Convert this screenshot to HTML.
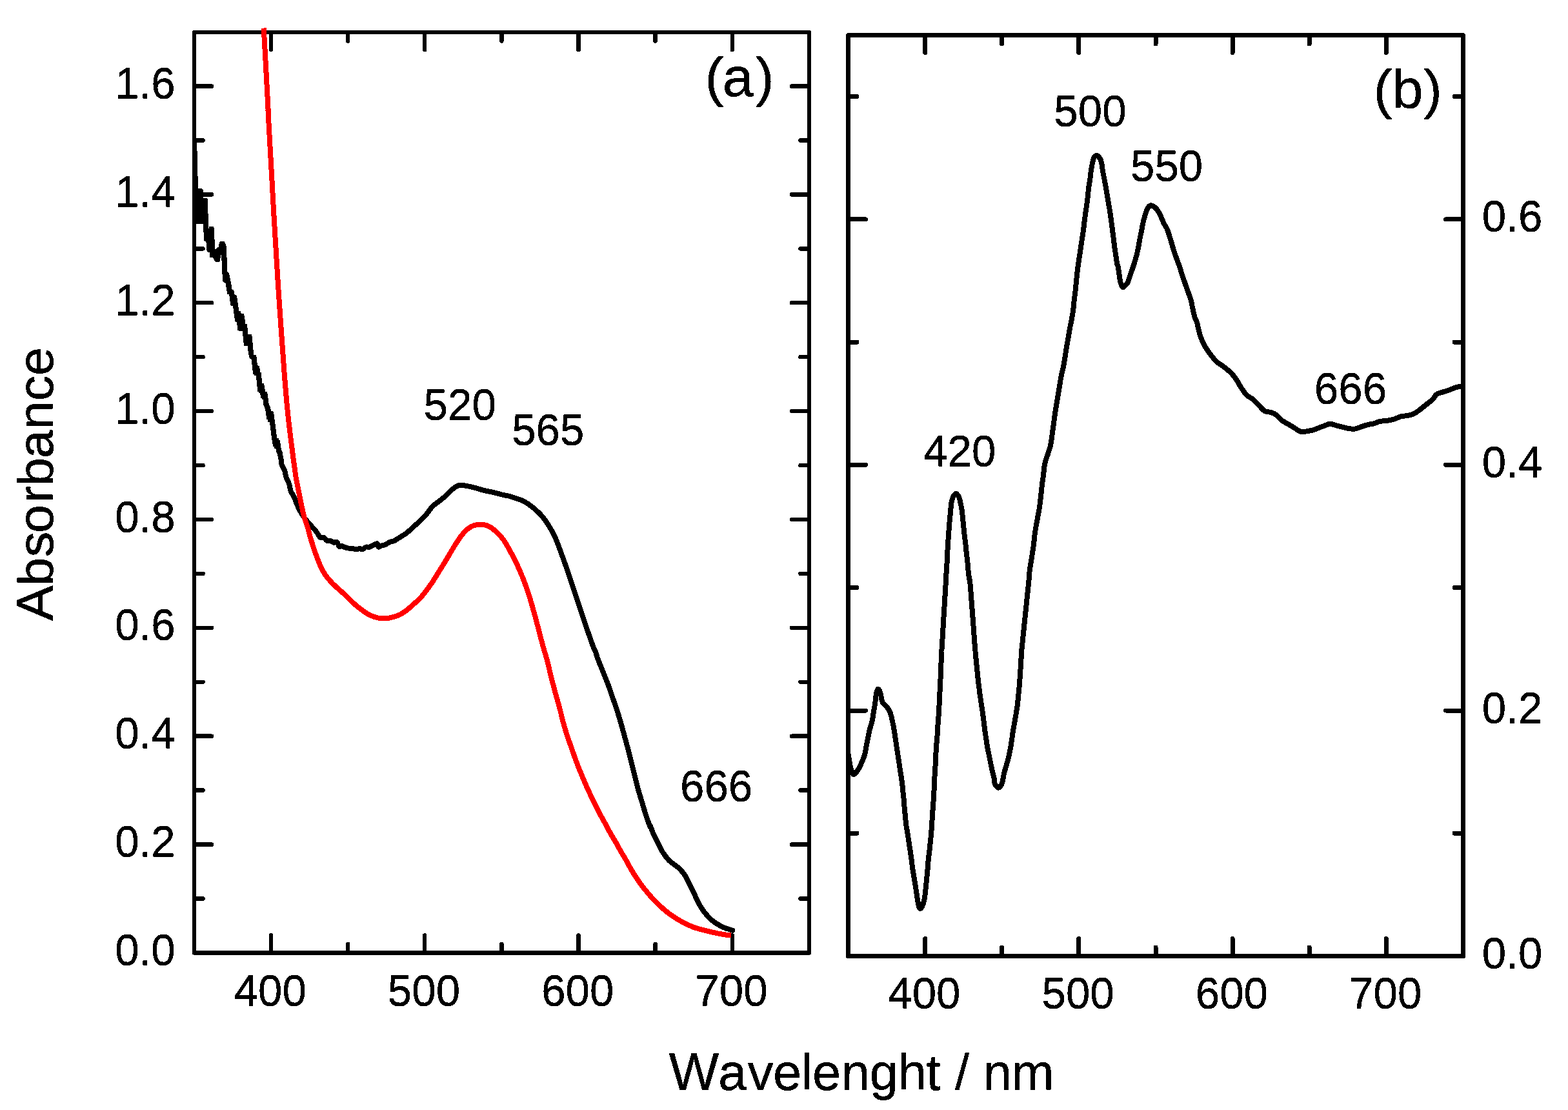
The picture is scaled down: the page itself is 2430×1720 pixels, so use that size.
<!DOCTYPE html>
<html lang="en"><head><meta charset="utf-8"><title>Absorbance spectra</title>
<style>
html,body{margin:0;padding:0;background:#fff;}
body{width:2430px;height:1720px;overflow:hidden;}
svg{display:block;}
text{font-family:"Liberation Sans",Arial,Helvetica,sans-serif;fill:#000;font-kerning:none;}
text{filter:url(#bin);}
.tk{font-size:67.3px;}
.ti{font-size:79.5px;}
.pl{font-size:87px;}
.ax{stroke:#000;fill:none;stroke-linecap:round;stroke-linejoin:round;}
.cv{fill:none;stroke-linejoin:round;}
</style></head><body>
<svg width="2430" height="1720" viewBox="0 0 2430 1720" shape-rendering="crispEdges">
<rect x="0" y="0" width="2430" height="1720" fill="#fff"/>
<defs><filter id="bin" x="-5%" y="-20%" width="110%" height="140%" color-interpolation-filters="sRGB"><feOffset in="SourceGraphic" dx="0" dy="1" result="o"/><feMerge result="m"><feMergeNode in="SourceGraphic"/><feMergeNode in="o"/></feMerge><feComponentTransfer in="m"><feFuncA type="discrete" tableValues="0 1"/></feComponentTransfer></filter></defs>
<g id="panel-a">
<g class="ax" stroke-width="6.5">
<rect x="301" y="50" width="953" height="1426.4"/>
<path d="M420 1476.4v-27 M420 50v27M658.2 1476.4v-27 M658.2 50v27M896.5 1476.4v-27 M896.5 50v27M1134.8 1476.4v-27 M1134.8 50v27M539.1 1476.4v-13.5 M539.1 50v13.5M777.4 1476.4v-13.5 M777.4 50v13.5M1015.6 1476.4v-13.5 M1015.6 50v13.5M301 1308.5h27 M1254 1308.5h-27M301 1140.7h27 M1254 1140.7h-27M301 972.8h27 M1254 972.8h-27M301 805h27 M1254 805h-27M301 637.1h27 M1254 637.1h-27M301 469.2h27 M1254 469.2h-27M301 301.4h27 M1254 301.4h-27M301 133.5h27 M1254 133.5h-27M301 1392.5h13.5 M1254 1392.5h-13.5M301 1224.6h13.5 M1254 1224.6h-13.5M301 1056.8h13.5 M1254 1056.8h-13.5M301 888.9h13.5 M1254 888.9h-13.5M301 721h13.5 M1254 721h-13.5M301 553.2h13.5 M1254 553.2h-13.5M301 385.3h13.5 M1254 385.3h-13.5M301 217.5h13.5 M1254 217.5h-13.5"/>
</g>
<polygon points="301,214 304.9,222 304.9,234 305.9,234 305.9,273 306.9,273 306.9,280 306.9,292.5 308.1,292 313.1,292 314.6,294 314.9,296.1 314.9,306.9 320.1,306.9 321.6,308.6 321.9,310.1 321.9,331.2 322.9,331.2 322.9,354.3 324.1,352.8 324.6,351.2 330.1,351 331.6,352.8 331.9,354.3 331.9,371.3 333,371.3 333,385.9 334.7,385.9 337.2,383.4 339.2,382.4 339.2,379.3 340.2,375.3 341.4,374 347.2,374 348.7,376.3 350.2,379.3 350.7,382.4 350.7,398.9 351.7,398.9 351.7,420 354.7,423.5 355.7,426.5 356.7,431.5 357.7,436.5 358.7,441.6 357.7,441.8 357.7,442.1 358.7,442.1 358.7,448.1 361.7,449.1 361.7,451.1 362.7,451.1 362.7,456.1 366.7,457.6 366.7,462.1 367.7,462.1 367.7,469.2 368.7,469.2 368.7,476.2 369.7,476.2 369.7,482.2 372.8,482.2 372.8,485.2 377.8,486.2 377.8,489.2 378.8,489.2 378.8,495.3 379.8,495.3 379.8,502.3 382.8,502.3 382.8,508.3 383.8,508.3 383.8,517.8 390.3,518.3 390.3,521.4 390.8,521.4 390.8,531.4 391.8,531.4 391.8,542.4 392.8,542.4 392.8,549.5 396.8,550 396.8,552.5 397.8,552.5 397.8,561.5 398.8,561.5 398.8,566 402.4,567.5 402.4,570.5 403.4,570.5 403.4,576.5 404.9,576.5 404.9,578 404.7,578 404.7,585.6 405.7,585.6 405.7,594.1 408.7,594.1 408.7,597.1 409.7,597.1 409.7,602.6 410.7,602.6 410.7,607.1 413.8,607.1 413.8,610.1 414.8,610.1 414.8,616.7 415.8,616.7 415.8,624.7 416.8,624.7 416.8,627.7 417.8,627.7 417.8,630.2 418.8,630.2 418.8,633.7 419.8,633.7 419.8,637 423.3,637 423.3,638.2 423.8,638.2 423.8,641.8 424.8,641.8 424.8,649.8 425.8,649.8 425.8,656.8 426.8,656.8 426.8,664.8 427.8,664.8 427.8,672.9 428.8,672.9 428.8,678.9 432.3,678.9 432.3,681.9 433.8,681.9 433.8,686.9 434.8,686.9 434.8,693.9 435.8,693.9 435.8,697.9 436.8,697.9 436.8,700 437.8,700 437.8,703 429.3,703 429.3,700.5 428.3,700.5 428.3,696.4 427.3,696.4 427.3,694.9 424.8,694.9 424.8,692.4 423.3,692.4 423.3,688.4 422.3,688.4 422.3,682.4 421.3,682.4 421.3,675.4 420.3,675.4 420.3,667.3 419.3,667.3 419.3,659.3 418.3,659.3 418.3,653.8 414.8,653.8 414.8,650.3 413.3,650.3 413.3,643.8 412.3,643.8 412.3,636.7 411.2,636.7 411.2,633.2 410.2,633.2 410.2,630.2 409.2,630.2 409.2,627.7 408.2,627.7 408.2,619.2 405.7,619.2 405.7,617.2 404.2,617.2 404.2,612.1 403.2,612.1 403.2,608.6 400.7,608.6 400.7,606.6 399.2,606.6 399.2,599.1 398.2,599.1 398.2,588.6 397.2,588.6 397.2,581.5 393.7,581.5 393.7,579.5 392.2,579.5 392.2,578 392.3,578 392.3,573.5 391.3,573.5 391.3,564.5 390.3,564.5 390.3,557.5 387.3,555.5 387.3,553.5 386.3,553.5 386.3,549.5 385.3,549.5 385.3,544.4 384.3,544.4 384.3,536.4 380.3,536.4 380.3,535.6 378.3,535.6 378.3,531.4 377.3,531.4 377.3,521.4 376.3,521.4 376.3,512.8 370.2,512.8 370.2,511.8 368.2,511.8 368.2,504.3 367.2,504.3 367.2,499.3 364.2,498.3 364.2,493.3 363.2,493.3 363.2,486.2 362.2,486.2 362.2,478.2 361.2,478.2 361.2,474.2 358.2,474.2 358.2,472.7 357.2,472.7 357.2,467.2 356.2,467.2 356.2,459.1 355.2,459.1 355.2,456.1 352.2,455.6 352.2,451.1 351.2,451.1 351.2,445.1 350.2,445.1 350.2,441.8 350.2,441.6 350.2,439.1 347.2,437.6 345.2,435.5 345.2,424.5 344.2,424.5 344.2,404.4 343.2,404.4 343.2,395.4 342.2,395.4 341.7,398.4 341.2,403.9 340.2,405.6 334.2,405.6 333.2,404.4 331.1,401.9 330.1,399.4 326.1,398.9 325.1,398.4 325.1,391.4 321.1,390.4 321.1,388.4 320.1,388.4 320.1,377.8 319.1,374.8 316.1,372.8 316.1,359.8 315.1,359.8 315.1,346.7 301,346.7 299,346.7 299,214" fill="#000"/>
<path class="cv" d="M433.1 700C433.5 701.7 434.7 706.7 435.3 710C435.9 713.4 435.6 716.7 436.6 720.1C437.6 723.4 440.2 726.8 441.3 730.1C442.5 733.5 442.5 736.8 443.7 740.1C444.8 743.5 447 746.8 448.2 750.2C449.3 753.5 449.1 756.9 450.4 760.2C451.6 763.6 454.1 766.9 455.7 770.2C457.3 773.6 458.3 776.9 459.7 780.3C461.1 783.6 462.5 787 464.2 790.3C466 793.7 467.6 796.6 470.2 800.4C472.9 804.1 476.9 808.7 480.3 812.6C483.6 816.5 487.7 820.6 490.3 823.9C493 827.3 494.2 831.3 496.2 832.8C498.2 834.4 500.5 832.3 502.2 833C503.9 833.8 504.6 836.7 506.2 837.6C507.9 838.4 510.4 837.6 512.3 838.1C514.1 838.6 515.6 840.2 517.3 840.6C518.9 840.9 520.9 839 522.3 840.1C523.7 841.2 524.6 846.2 525.8 847.1C527 848 528.1 845.5 529.3 845.6C530.6 845.7 531.5 846.9 533.3 847.6C535.2 848.3 538.2 849.2 540.4 849.6C542.5 850 544.5 849.6 546.4 849.9C548.2 850.2 549.6 851.3 551.4 851.3C553.2 851.3 555.7 850.1 557.4 850.1C559.1 850.1 559.8 851.7 561.4 851.3C563.1 850.9 565.6 848.2 567.4 847.6C569.3 847 570.6 848.4 572.5 847.9C574.3 847.4 576.5 845.5 578.5 844.6C580.5 843.6 583.1 841.8 584.5 842.3C585.9 842.8 585.7 847 586.7 847.6C587.7 848.2 588.9 846.5 590.5 845.9C592.2 845.3 594.2 845.1 596.5 844.1C598.9 843.1 602.2 840.9 604.6 839.9C606.9 838.9 607.9 839.4 610.6 838.1C613.3 836.8 617.3 834.1 620.6 832C624 830 627.4 828 630.7 825.5C633.9 823 636.8 820 640 817C643.2 814.1 646.7 811.2 650 808C653.4 804.9 656.7 801.9 660 798C663.4 794.2 666.7 788.5 670 785C673.4 781.5 676.7 779.7 680 777C683.4 774.4 686.7 772 690 769C693.4 766 696.7 761.8 700 759C703.4 756.3 706.7 753.5 710 752.4C713.4 751.3 716.7 752.1 720 752.4C723.4 752.8 726.7 753.7 730.1 754.4C733.4 755.2 736.7 756.1 740.1 757C743.4 758 746.7 759.2 750.1 760C753.4 760.9 756.7 761.3 760.1 762C763.4 762.8 766.7 763.6 770.1 764.4C773.4 765.3 776.7 766.3 780.1 767C783.4 767.8 786.7 768.1 790.1 769C793.4 769.9 796.7 771.3 800.1 772.4C803.4 773.6 806.7 774.4 810.1 776C813.4 777.6 816.8 779.7 820.1 782C823.4 784.4 826.8 787 830.1 790C833.4 793 836.8 796 840.1 800C843.4 804 846.8 808.7 850.1 814C853.4 819.4 856.8 824.7 860.1 832.1C863.4 839.4 866.8 849.1 870.1 858.1C873.4 867.1 876.8 876.4 880.1 886.1C883.4 895.7 886.8 906.1 890.1 916.1C893.5 926.1 896.8 936.1 900.1 946.1C903.5 956.1 906.8 966.4 910.1 976.1C913.5 985.8 918 998.5 920.1 1004.1C922.3 1009.8 922.1 1007.4 923.1 1010C924.1 1012.7 924.2 1015 926.1 1020C927.9 1025 931.4 1033.3 934.1 1040C936.7 1046.7 939.6 1053.4 942.1 1060C944.6 1066.7 946.7 1073.4 949.1 1080C951.4 1086.7 953.9 1093.4 956.1 1100C958.2 1106.7 960.1 1113.4 962.1 1120C964 1126.7 965.8 1133.4 967.7 1140.1C969.5 1146.7 971.4 1153.4 973.1 1160.1C974.8 1166.7 976.4 1173.4 978.1 1180.1C979.8 1186.7 981.4 1193.4 983.1 1200.1C984.8 1206.7 986.3 1213.4 988.1 1220.1C989.9 1226.8 992.1 1233.4 994.1 1240.1C996.1 1246.8 997.9 1253.4 1000.1 1260.1C1002.3 1266.8 1005.8 1276.8 1007.1 1280.1C1008.4 1283.4 1006.8 1277.8 1007.8 1280C1008.8 1282.2 1011.1 1288.7 1013.1 1293.1C1015 1297.4 1017.4 1301.8 1019.6 1306.1C1021.8 1310.5 1023.4 1314.9 1026.1 1319.2C1028.9 1323.6 1033 1329 1035.9 1332.3C1038.9 1335.6 1041.1 1336.6 1043.8 1338.8C1046.5 1341 1049.9 1343.2 1052.3 1345.4C1054.7 1347.5 1056.4 1349.7 1058.2 1351.9C1059.9 1354.1 1060.9 1355.2 1062.7 1358.4C1064.6 1361.7 1067.1 1367.1 1069.3 1371.5C1071.5 1375.9 1073.7 1380.2 1075.8 1384.6C1077.9 1388.9 1079.4 1393.3 1081.7 1397.6C1084 1402 1087.4 1407.5 1089.5 1410.7C1091.7 1414 1092.9 1415.1 1094.8 1417.3C1096.6 1419.4 1098.3 1421.6 1100.7 1423.8C1103.1 1426 1105.8 1428.1 1109.2 1430.3C1112.5 1432.5 1117.4 1435.2 1120.9 1436.9C1124.4 1438.5 1127.7 1439.3 1130.1 1440.1C1132.5 1440.9 1134.4 1441.4 1135.3 1441.7" stroke="#000" stroke-width="8" stroke-linecap="round"/>
<path class="cv" d="M408.7 43.5C409.8 62.9 413.9 137.2 415.1 160C416.3 182.8 414.8 160 415.9 180C417 200 420 252.8 421.5 280C423 307.2 423.4 315.8 425 343C426.6 370.2 428.6 405.2 431.1 443C433.6 480.8 437.5 537.2 440 570C442.5 602.8 443.8 618.3 446 640C448.2 661.7 451.5 686.7 453.2 700C454.8 713.3 455 713.4 455.9 720.1C456.8 726.8 457.6 733.5 458.7 740.1C459.8 746.8 461.4 753.5 462.7 760.2C464.1 766.9 465.3 773.6 466.7 780.3C468.2 787 469.4 793.7 471.2 800.4C473.1 807 476.1 815.1 477.6 820C479.1 824.9 479.2 826.7 480.1 830C481.1 833.4 482.1 836.7 483.2 840.1C484.2 843.4 485.2 846.8 486.4 850.1C487.5 853.5 488.7 856.8 489.9 860.1C491.1 863.5 492.3 866.8 493.7 870.2C495.1 873.5 496.5 876.9 498.2 880.2C499.9 883.6 501.5 886.9 503.7 890.2C506 893.6 509 897.2 511.8 900.3C514.5 903.4 517.2 905.9 520.3 908.8C523.4 911.7 527 914.8 530.3 917.8C533.7 920.9 537 924 540.4 927.2C543.7 930.4 547 933.9 550.4 936.9C553.7 939.9 557.1 942.5 560.4 944.9C563.8 947.4 567.1 949.8 570.5 951.7C573.8 953.5 577.1 954.9 580.5 956C583.8 957.1 587.2 957.9 590.5 958.3C593.9 958.6 597.2 958.4 600.6 958C603.9 957.5 607.3 956.7 610.6 955.7C613.9 954.7 617.3 953.7 620.6 952C624 950.2 627.4 947.7 630.7 945.2C633.9 942.8 636.8 940 640 937.1C643.2 934.2 646.7 931.6 650 928.1C653.4 924.6 656.7 920.4 660 916.1C663.4 911.8 666.7 907.1 670 902.1C673.4 897.1 676.7 891.4 680 886.1C683.4 880.7 686.7 875.6 690 870.1C693.4 864.6 696.7 858.6 700 853.1C703.4 847.6 706.7 841.9 710 837.1C713.4 832.2 716.7 827.6 720 824C723.4 820.5 726.7 817.9 730.1 816C733.4 814.2 736.7 813.5 740.1 813C743.4 812.5 746.7 812.4 750.1 813C753.4 813.7 756.7 815 760.1 817C763.4 819 766.7 821.9 770.1 825.1C773.4 828.2 776.7 831.4 780.1 836.1C783.4 840.7 786.7 847.1 790.1 853.1C793.4 859.1 796.7 865.1 800.1 872.1C803.4 879.1 806.7 886.6 810.1 895.1C813.4 903.6 816.8 912.6 820.1 923.1C823.4 933.6 826.8 945.9 830.1 958.1C833.4 970.3 837.8 987.5 840.1 996.1C842.4 1004.8 842.9 1006 844 1010C845.2 1014 845.7 1015 847 1020C848.4 1025 850.4 1033.3 852 1040C853.7 1046.7 855.3 1053.4 857 1060C858.8 1066.7 860.6 1073.4 862.4 1080C864.3 1086.7 866.3 1093.4 868 1100C869.8 1106.7 871.2 1113.4 873 1120C874.9 1126.7 876.9 1133.4 879 1140.1C881.2 1146.7 883.7 1153.4 886.1 1160.1C888.4 1166.7 890.6 1173.4 893.1 1180.1C895.6 1186.7 898.3 1193.4 901.1 1200.1C903.8 1206.7 906.7 1213.4 909.7 1220.1C912.7 1226.8 915.8 1233.4 919.1 1240.1C922.3 1246.8 925.6 1253.4 929.1 1260.1C932.6 1266.8 938.3 1276.8 940.1 1280.1C941.9 1283.4 938.7 1277.8 939.9 1280C941 1282.2 944.6 1288.7 947.1 1293.1C949.6 1297.4 952.4 1301.8 954.9 1306.1C957.4 1310.5 959.6 1314.9 962.1 1319.2C964.6 1323.6 967.4 1327.9 969.9 1332.3C972.4 1336.6 974.6 1341 977.1 1345.4C979.6 1349.7 982.1 1354.1 985 1358.4C987.8 1362.8 990.8 1367.1 994.1 1371.5C997.4 1375.9 1000.9 1380.2 1004.6 1384.6C1008.3 1388.9 1012 1393.3 1016.3 1397.6C1020.7 1402 1026.9 1407.5 1030.7 1410.7C1034.5 1414 1036.2 1415.1 1039.2 1417.3C1042.3 1419.4 1045.4 1421.6 1049 1423.8C1052.6 1426 1056.4 1428.1 1060.8 1430.3C1065.1 1432.5 1069.7 1434.9 1075.2 1436.9C1080.6 1438.8 1087.6 1440.6 1093.5 1442.1C1099.3 1443.6 1105.2 1444.9 1110.5 1446C1115.7 1447.1 1121.1 1448 1124.8 1448.6C1128.6 1449.2 1131.6 1449.4 1132.9 1449.5" stroke="#f00" stroke-width="8" stroke-linecap="butt"/>
<text class="tk" transform="translate(271.7 1494.9) scale(1 1.02)" text-anchor="end">0.0</text>
<text class="tk" transform="translate(271.7 1327) scale(1 1.02)" text-anchor="end">0.2</text>
<text class="tk" transform="translate(271.7 1159.2) scale(1 1.02)" text-anchor="end">0.4</text>
<text class="tk" transform="translate(271.7 991.3) scale(1 1.02)" text-anchor="end">0.6</text>
<text class="tk" transform="translate(271.7 823.5) scale(1 1.02)" text-anchor="end">0.8</text>
<text class="tk" transform="translate(271.7 655.6) scale(1 1.02)" text-anchor="end">1.0</text>
<text class="tk" transform="translate(271.7 487.7) scale(1 1.02)" text-anchor="end">1.2</text>
<text class="tk" transform="translate(271.7 319.9) scale(1 1.02)" text-anchor="end">1.4</text>
<text class="tk" transform="translate(271.7 152) scale(1 1.02)" text-anchor="end">1.6</text>
<text class="tk" transform="translate(418.8 1558) scale(1 1.02)" text-anchor="middle">400</text>
<text class="tk" transform="translate(657 1558) scale(1 1.02)" text-anchor="middle">500</text>
<text class="tk" transform="translate(895.3 1558) scale(1 1.02)" text-anchor="middle">600</text>
<text class="tk" transform="translate(1133.5 1558) scale(1 1.02)" text-anchor="middle">700</text>
<text class="tk" transform="translate(656.6 650.4) scale(1 1.02)">520</text>
<text class="tk" transform="translate(793.2 689.2) scale(1 1.02)">565</text>
<text class="tk" transform="translate(1054 1241.4) scale(1 1.02)">666</text>
<text class="pl" transform="translate(0 147.8) scale(1 0.965)" x="1092.4 1119.6 1170.8" y="0">(a)</text>
</g>
<g id="panel-b">
<g class="ax" stroke-width="7">
<rect x="1314.5" y="54.5" width="953" height="1427"/>
<path d="M1433.6 1481.5v-27 M1433.6 54.5v27M1671.8 1481.5v-27 M1671.8 54.5v27M1910.1 1481.5v-27 M1910.1 54.5v27M2148.3 1481.5v-27 M2148.3 54.5v27M1552.7 1481.5v-13.5 M1552.7 54.5v13.5M1791 1481.5v-13.5 M1791 54.5v13.5M2029.2 1481.5v-13.5 M2029.2 54.5v13.5M1314.5 1101h27 M2267.5 1101h-27M1314.5 720.4h27 M2267.5 720.4h-27M1314.5 339.9h27 M2267.5 339.9h-27M1314.5 1291.2h13.5 M2267.5 1291.2h-13.5M1314.5 910.7h13.5 M2267.5 910.7h-13.5M1314.5 530.1h13.5 M2267.5 530.1h-13.5M1314.5 149.6h13.5 M2267.5 149.6h-13.5"/>
</g>
<clipPath id="clipb"><rect x="1314.5" y="54.5" width="953" height="1427"/></clipPath>
<path class="cv" clip-path="url(#clipb)" d="M1314.1 1166C1314.8 1169.9 1316.8 1183.9 1318.3 1189.5C1319.8 1195.2 1320.9 1199.6 1322.9 1200C1324.8 1200.4 1327.9 1195.4 1330.1 1192.2C1332.2 1188.9 1334.3 1184.1 1335.9 1180.4C1337.6 1176.7 1338.8 1173.9 1339.9 1169.9C1341 1166 1341.6 1161.2 1342.5 1156.9C1343.4 1152.5 1344.2 1148.1 1345.1 1143.8C1346 1139.4 1346.6 1135.1 1347.7 1130.7C1348.8 1126.4 1350.7 1122 1351.6 1117.6C1352.6 1113.3 1352.9 1108.9 1353.6 1104.6C1354.3 1100.2 1355.3 1095.9 1355.9 1091.5C1356.6 1087.1 1357 1081.9 1357.5 1078.4C1358 1074.9 1358.5 1072.4 1359.1 1070.6C1359.7 1068.8 1360.3 1067.6 1361 1067.7C1361.8 1067.8 1362.7 1069.5 1363.4 1071.2C1364.1 1073 1364.6 1075.5 1365.4 1078.4C1366.1 1081.4 1366.4 1086.1 1368 1088.9C1369.5 1091.7 1372.5 1092.8 1374.5 1095.4C1376.5 1098 1378.3 1100.9 1379.7 1104.6C1381.2 1108.3 1382 1113.3 1383 1117.6C1384 1122 1384.9 1126.4 1385.6 1130.7C1386.4 1135.1 1386.9 1139.4 1387.6 1143.8C1388.2 1148.1 1388.9 1152.5 1389.5 1156.9C1390.2 1161.2 1390.8 1165.6 1391.5 1169.9C1392.2 1174.3 1392.8 1178.6 1393.5 1183C1394.1 1187.4 1395 1193.2 1395.4 1196.1C1395.9 1198.9 1395.6 1197.2 1396.1 1200C1396.5 1202.8 1397.5 1208.7 1398 1213.1C1398.6 1217.4 1398.9 1221.8 1399.3 1226.1C1399.8 1230.5 1400.3 1234.9 1400.7 1239.2C1401 1243.6 1401.3 1247.9 1401.7 1252.3C1402.1 1256.6 1402.6 1261 1403 1265.4C1403.4 1269.7 1403.7 1274.1 1404.3 1278.4C1404.9 1282.8 1405.8 1287.1 1406.5 1291.5C1407.2 1295.9 1407.8 1300.2 1408.5 1304.6C1409.2 1308.9 1409.8 1313.3 1410.5 1317.6C1411.1 1322 1411.8 1326.4 1412.4 1330.7C1413 1335.1 1413.4 1339.4 1414 1343.8C1414.6 1348.1 1415.4 1352.5 1416.1 1356.9C1416.8 1361.2 1417.6 1365.6 1418.3 1369.9C1419 1374.3 1419.6 1378.6 1420.3 1383C1420.9 1387.4 1421.6 1392.4 1422.2 1396.1C1422.9 1399.8 1423.5 1403.2 1424.2 1405.2C1424.9 1407.2 1425.6 1408.1 1426.4 1408.1C1427.2 1408.1 1427.8 1407.2 1428.8 1405.2C1429.7 1403.2 1431.2 1399.8 1432 1396.1C1432.9 1392.4 1433.4 1387.4 1434 1383C1434.5 1378.6 1434.9 1374.3 1435.3 1369.9C1435.7 1365.6 1436.2 1361.2 1436.6 1356.9C1437 1352.5 1437.5 1348.1 1437.9 1343.8C1438.3 1339.4 1438.4 1335.1 1438.8 1330.7C1439.3 1326.4 1440 1322 1440.5 1317.6C1441 1313.3 1441.4 1308.9 1441.8 1304.6C1442.3 1300.2 1442.8 1295.9 1443.1 1291.5C1443.5 1287.1 1443.8 1282.8 1444.1 1278.4C1444.3 1274.1 1444.6 1269.7 1444.8 1265.4C1445.1 1261 1445.4 1256.6 1445.8 1252.3C1446.1 1247.9 1446.4 1243.6 1446.7 1239.2C1446.9 1234.9 1447.3 1230.5 1447.5 1226.1C1447.6 1221.8 1447.5 1217.4 1447.7 1213.1C1447.9 1208.7 1448.5 1202.8 1448.8 1200C1449 1197.2 1448.9 1198.9 1449 1196.1C1449.2 1193.2 1449.5 1187.4 1449.7 1183C1449.9 1178.6 1450.1 1174.3 1450.3 1169.9C1450.5 1165.6 1450.7 1161.2 1451 1156.9C1451.3 1152.5 1452 1148.1 1452.3 1143.8C1452.6 1139.4 1452.7 1135.1 1452.9 1130.7C1453.2 1126.4 1453.7 1122 1454 1117.6C1454.3 1113.3 1454.6 1108.9 1454.9 1104.6C1455.2 1100.2 1455.3 1095.9 1455.6 1091.5C1455.8 1087.1 1456 1082.8 1456.2 1078.4C1456.4 1074.1 1456.6 1069.7 1456.9 1065.4C1457.1 1061 1457.3 1056.6 1457.5 1052.3C1457.7 1047.9 1457.7 1043.6 1457.9 1039.2C1458.1 1034.9 1458.3 1030.5 1458.6 1026.1C1458.8 1021.8 1459 1017.4 1459.2 1013.1C1459.4 1008.7 1458.8 1017.3 1459.9 1000C1460.9 982.7 1464.3 926.5 1465.4 909.2C1466.4 891.8 1465.8 900.4 1466 896.1C1466.3 891.7 1466.6 887.4 1466.9 883C1467.2 878.6 1467.5 874.3 1467.7 869.9C1467.9 865.6 1468 861.2 1468.2 856.9C1468.5 852.5 1468.7 848.1 1469 843.8C1469.3 839.4 1469.6 835.1 1469.9 830.7C1470.2 826.4 1470.5 822 1470.8 817.6C1471.2 813.3 1471.5 808.9 1471.9 804.6C1472.3 800.2 1472.8 795.9 1473.2 791.5C1473.6 787.1 1473.8 782.1 1474.5 778.4C1475.2 774.7 1476.2 771.6 1477.4 769.3C1478.6 767 1480.2 764.5 1481.7 764.7C1483.2 764.9 1485.1 767.9 1486.3 770.6C1487.5 773.3 1488.1 777.6 1488.9 781C1489.7 784.5 1490.3 787.6 1490.8 791.5C1491.4 795.4 1491.7 800.2 1492.2 804.6C1492.6 808.9 1493 813.3 1493.5 817.6C1493.9 822 1494.3 826.4 1494.8 830.7C1495.3 835.1 1496 839.4 1496.5 843.8C1497 848.1 1497.3 852.5 1497.8 856.9C1498.3 861.2 1498.9 865.6 1499.3 869.9C1499.8 874.3 1500 878.6 1500.4 883C1500.8 887.4 1501.4 891.7 1502 896.1C1502.5 900.4 1502.5 891.8 1503.9 909.2C1505.4 926.5 1509.4 982.7 1510.7 1000C1512 1017.3 1511.4 1008.7 1511.8 1013.1C1512.2 1017.4 1512.6 1021.8 1513.1 1026.1C1513.5 1030.5 1513.9 1034.9 1514.4 1039.2C1514.8 1043.6 1515.2 1047.9 1515.7 1052.3C1516.2 1056.6 1516.7 1061 1517.3 1065.4C1517.8 1069.7 1518.3 1074.1 1519 1078.4C1519.6 1082.8 1520.3 1087.1 1520.9 1091.5C1521.6 1095.9 1522.3 1100.2 1522.9 1104.6C1523.5 1108.9 1524 1113.3 1524.6 1117.6C1525.1 1122 1525.6 1126.4 1526.1 1130.7C1526.7 1135.1 1527.5 1139.4 1528.1 1143.8C1528.8 1148.1 1529.3 1152.5 1530.1 1156.9C1530.8 1161.2 1531.8 1165.6 1532.7 1169.9C1533.6 1174.3 1534.4 1178.6 1535.3 1183C1536.2 1187.4 1537.3 1192.4 1538.2 1196.1C1539 1199.8 1540 1202.4 1540.5 1205.2C1541.1 1208.1 1540.8 1211.1 1541.4 1213.3C1542 1215.5 1543.2 1217.3 1544.2 1218.6C1545.2 1219.8 1546.1 1220.8 1547.1 1220.8C1548.1 1220.8 1549.2 1219.8 1550.2 1218.6C1551.2 1217.3 1552.3 1215.5 1553.1 1213.3C1553.8 1211.1 1554.1 1208.3 1554.7 1205.4C1555.3 1202.5 1555.6 1199.8 1556.6 1196.1C1557.6 1192.3 1559.3 1187.4 1560.5 1183C1561.7 1178.6 1562.8 1174.3 1563.8 1169.9C1564.8 1165.6 1565.6 1161.2 1566.4 1156.9C1567.2 1152.5 1567.7 1148.1 1568.4 1143.8C1569 1139.4 1569.6 1135.1 1570.3 1130.7C1571 1126.4 1571.9 1122 1572.7 1117.6C1573.4 1113.3 1574.2 1108.9 1574.9 1104.6C1575.6 1100.2 1576.3 1095.9 1576.9 1091.5C1577.4 1087.1 1577.7 1082.8 1578.2 1078.4C1578.6 1074.1 1579.1 1069.7 1579.5 1065.4C1579.9 1061 1580.2 1056.6 1580.5 1052.3C1580.8 1047.9 1581.2 1043.6 1581.4 1039.2C1581.7 1034.9 1581.8 1030.5 1582.1 1026.1C1582.4 1021.8 1582.8 1017.4 1583.1 1013.1C1583.5 1008.7 1582.3 1017.3 1584.1 1000C1585.8 982.7 1591.7 926.5 1593.5 909.2C1595.3 891.8 1594.4 900.4 1594.8 896.1C1595.2 891.7 1595.3 887.4 1595.8 883C1596.4 878.6 1597.3 874.3 1598 869.9C1598.7 865.6 1599.3 861.2 1600 856.9C1600.7 852.5 1601.4 848.1 1602 843.8C1602.5 839.4 1602.7 835.1 1603.3 830.7C1603.8 826.4 1604 824.6 1605.2 817.6C1606.4 810.7 1609.3 796.1 1610.5 789.2C1611.6 782.2 1611.6 780.4 1612.2 776.1C1612.7 771.7 1613.2 767.4 1613.7 763C1614.2 758.6 1614.5 754.3 1615 749.9C1615.6 745.6 1616.4 741.2 1617 736.9C1617.5 732.5 1617.8 727.5 1618.3 723.8C1618.8 720.1 1619.3 718.1 1620.3 714.6C1621.2 711.2 1622.9 707 1624.2 702.9C1625.5 698.7 1627.1 694.6 1628.1 689.8C1629.2 685 1629.7 679.3 1630.5 674.1C1631.2 668.9 1631.9 664.3 1632.7 658.4C1633.5 652.5 1634.3 645.4 1635.3 638.8C1636.3 632.3 1637.5 625.8 1638.6 619.2C1639.7 612.7 1640.7 606.1 1641.8 599.6C1642.9 593.1 1644.1 584.9 1645.1 580C1646.1 575.1 1646.9 573.8 1647.7 569.9C1648.5 566.1 1649.2 561.2 1649.9 556.9C1650.7 552.5 1651.3 548.1 1652 543.8C1652.7 539.4 1653.5 535.1 1654.2 530.7C1655 526.4 1655.7 522 1656.5 517.6C1657.2 513.3 1658 508.9 1658.8 504.6C1659.7 500.2 1660.7 495.9 1661.4 491.5C1662.2 487.1 1662.9 482.8 1663.4 478.4C1663.9 474.1 1664.2 469.7 1664.7 465.4C1665.2 461 1665.9 456.6 1666.4 452.3C1666.9 447.9 1667.3 443.6 1667.7 439.2C1668.1 434.9 1668.5 430.5 1669 426.1C1669.5 421.8 1670.2 415.9 1670.6 413.1C1670.9 410.2 1670.7 412 1671.1 409.2C1671.5 406.3 1672.4 400.4 1673.1 396.1C1673.7 391.7 1674.4 387.4 1675 383C1675.7 378.6 1676.3 374.3 1677 369.9C1677.6 365.6 1678.4 361.2 1679 356.9C1679.5 352.5 1680 348.1 1680.5 343.8C1681.1 339.4 1681.6 335.1 1682.2 330.7C1682.8 326.4 1683.6 322 1684.2 317.6C1684.8 313.3 1685.3 308.9 1685.8 304.6C1686.2 300.2 1686.5 295.9 1687.1 291.5C1687.6 287.1 1688.5 282.8 1689.2 278.4C1689.8 274.1 1690.1 269.7 1690.7 265.4C1691.4 261 1692.2 255.9 1693.1 252.3C1693.9 248.7 1694.6 245.7 1695.7 243.8C1696.8 241.9 1698.1 240.7 1699.6 240.9C1701.1 241.1 1703.2 243.2 1704.4 245.1C1705.7 247 1706.3 248.9 1707.1 252.3C1707.8 255.7 1708.3 261 1709 265.4C1709.8 269.7 1710.8 274.1 1711.6 278.4C1712.5 282.8 1713.2 287.1 1714 291.5C1714.7 295.9 1715.5 300.2 1716.2 304.6C1716.9 308.9 1717.7 313.3 1718.4 317.6C1719.2 322 1719.9 326.4 1720.5 330.7C1721.2 335.1 1721.8 339.4 1722.4 343.8C1722.9 348.1 1723.5 352.5 1724.1 356.9C1724.6 361.2 1725.2 365.6 1725.8 369.9C1726.3 374.3 1726.7 378.6 1727.3 383C1727.9 387.4 1728.6 391.7 1729.3 396.1C1729.9 400.4 1730.7 406.3 1731.2 409.2C1731.8 412 1732.1 410.2 1732.7 413.1C1733.2 415.9 1734 422 1734.6 426.1C1735.3 430.3 1735.7 434.7 1736.6 437.9C1737.5 441.1 1738.6 444.4 1739.9 445.1C1741.2 445.8 1743.1 443 1744.4 441.8C1745.8 440.6 1746.5 440.5 1747.7 437.9C1748.9 435.3 1750.2 430.3 1751.6 426.1C1753.1 422 1754.6 418.1 1756.2 413.1C1757.8 408.1 1760 401.1 1761.3 396.1C1762.6 391.1 1763.3 387.4 1764.2 383C1765.1 378.6 1765.7 374.3 1766.5 369.9C1767.4 365.6 1768.3 361.2 1769.2 356.9C1770 352.5 1770.7 348.1 1771.8 343.8C1772.8 339.4 1774.3 334.2 1775.4 330.7C1776.6 327.2 1777.3 324.9 1778.6 322.9C1779.8 320.8 1781 318.5 1782.9 318.3C1784.8 318.1 1788 319.9 1790.1 321.6C1792.1 323.2 1793.7 325.5 1795.3 328.1C1796.9 330.7 1798.5 334.2 1799.9 337.3C1801.3 340.3 1802.4 343.6 1803.8 346.4C1805.2 349.2 1807.1 351.4 1808.4 354.2C1809.7 357.1 1810.5 360.1 1811.6 363.4C1812.7 366.7 1813.9 370.6 1814.9 373.9C1815.9 377.1 1816.4 379.3 1817.5 383C1818.7 386.7 1820.3 391.7 1821.8 396.1C1823.3 400.4 1825.5 406.3 1826.5 409.2C1827.6 412 1827.2 410.2 1828.1 413.1C1829 415.9 1830.6 421.8 1832 426.1C1833.4 430.5 1835.1 434.9 1836.6 439.2C1838.1 443.6 1839.7 447.9 1841.2 452.3C1842.7 456.6 1844.6 461 1845.8 465.4C1846.9 469.7 1847.4 474.1 1848.4 478.4C1849.3 482.8 1850.5 487.9 1851.6 491.5C1852.7 495.1 1853.6 495.3 1855 500C1856.4 504.8 1858 514 1860 520C1862 526 1864.5 531.4 1867 536C1869.5 540.7 1872 544 1875 548C1878 552 1881.5 556.7 1885 560C1888.5 563.4 1892.2 565 1896 568C1899.9 571 1904.7 574.7 1908 578C1911.4 581.4 1913.5 584.4 1916 588C1918.5 591.7 1920.4 596 1923 600C1925.7 604 1928.9 608.9 1932 612.1C1935.2 615.2 1938.7 616.2 1942 619.1C1945.4 621.9 1949 626.1 1952 629.1C1955 632.1 1957 635.4 1960 637.1C1963 638.7 1967 638.1 1970 639.1C1973 640.1 1975.4 641.1 1978.1 643.1C1980.7 645.1 1983.1 648.7 1986.1 651.1C1989.1 653.4 1992.7 655.1 1996.1 657.1C1999.4 659.1 2002.7 661.1 2006.1 663.1C2009.4 665.1 2012.7 668.2 2016.1 669.1C2019.4 669.9 2022.7 668.6 2026.1 668.1C2029.4 667.6 2032.7 667.1 2036.1 666.1C2039.4 665.1 2043.1 663.2 2046.1 662.1C2049.1 660.9 2051.6 660 2054.1 659.1C2056.6 658.2 2058.4 656.7 2061.1 656.7C2063.8 656.7 2066.9 658.2 2070.1 659.1C2073.3 659.9 2076.8 660.8 2080.1 661.7C2083.4 662.5 2086.8 663.6 2090.1 664.1C2093.4 664.5 2096.8 665 2100.1 664.5C2103.4 664 2106.8 662.1 2110.1 661.1C2113.4 660 2116.8 658.9 2120.1 658.1C2123.4 657.2 2127.1 656.9 2130.1 656.1C2133.1 655.2 2134.8 653.8 2138.1 653.1C2141.4 652.3 2146.5 652.2 2150.1 651.7C2153.8 651.1 2156.8 650.7 2160.1 649.7C2163.5 648.7 2166.8 646.6 2170.1 645.7C2173.5 644.7 2176.8 644.7 2180.1 644.1C2183.5 643.4 2186.8 643.2 2190.1 641.7C2193.5 640.2 2196.8 637.5 2200.1 635.1C2203.5 632.6 2206.8 629.7 2210.1 627.1C2213.5 624.4 2217.5 621.7 2220.1 619.1C2222.8 616.4 2223.8 612.9 2226.2 611.1C2228.5 609.2 2231.2 609.1 2234.2 608.1C2237.2 607.1 2240.8 606.2 2244.2 605.1C2247.5 603.9 2251.2 602 2254.2 601C2257.2 600 2259.9 599.5 2262.2 599C2264.4 598.6 2266.8 598.5 2267.8 598.4" stroke="#000" stroke-width="8" stroke-linecap="butt"/>
<text class="tk" transform="translate(2296.8 1500) scale(1 1.02)">0.0</text>
<text class="tk" transform="translate(2296.8 1119.5) scale(1 1.02)">0.2</text>
<text class="tk" transform="translate(2296.8 738.9) scale(1 1.02)">0.4</text>
<text class="tk" transform="translate(2296.8 358.4) scale(1 1.02)">0.6</text>
<text class="tk" transform="translate(1432.4 1562) scale(1 1.02)" text-anchor="middle">400</text>
<text class="tk" transform="translate(1670.6 1562) scale(1 1.02)" text-anchor="middle">500</text>
<text class="tk" transform="translate(1908.9 1562) scale(1 1.02)" text-anchor="middle">600</text>
<text class="tk" transform="translate(2147.2 1562) scale(1 1.02)" text-anchor="middle">700</text>
<text class="tk" transform="translate(1431.2 721.7) scale(1 1.02)">420</text>
<text class="tk" transform="translate(1633.3 194.6) scale(1 1.02)">500</text>
<text class="tk" transform="translate(1752 279.6) scale(1 1.02)">550</text>
<text class="tk" transform="translate(2036.8 624.6) scale(1 1.02)">666</text>
<text class="pl" transform="translate(0 167.3) scale(1 0.965)" x="2128.4 2157.3 2206" y="0">(b)</text>
</g>
<text class="ti" transform="translate(81.2 961.2) rotate(-90) scale(1 0.965)" x="-1 53.2 97.7 134.9 182.1 208 250.7 295.8 339.8 379" y="0"><tspan font-size="82.5px">A</tspan>bsorbance</text>
<text class="ti" transform="translate(0 1688.4) scale(1 0.985)" x="1036.4 1113.1 1158.7 1198.1 1241.7 1259.1 1303.8 1347.8 1391.8 1435.6 1457.8 1479.9 1501.8 1523.7 1567.5" y="0"><tspan font-size="82.5px">W</tspan>avelenght / nm</text>
</svg>
</body></html>
